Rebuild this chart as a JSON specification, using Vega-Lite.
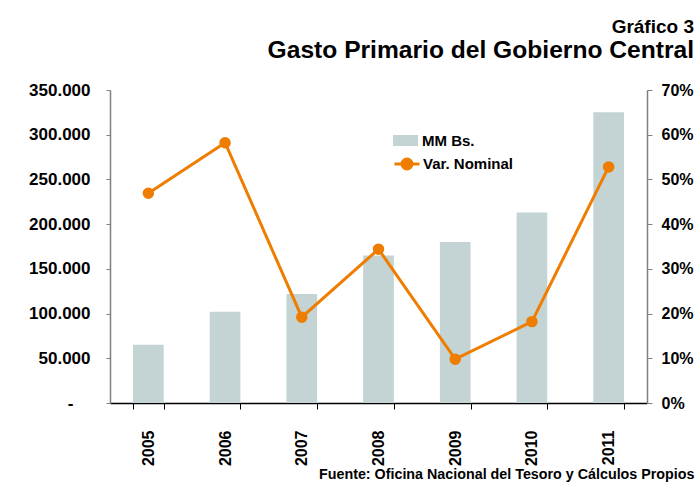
{
  "$schema": "https://vega.github.io/schema/vega-lite/v6.json",
  "width": 537,
  "height": 313,
  "padding": {"left": 28, "top": 18, "right": 2, "bottom": 5},
  "background": "white",
  "config": {"font": "Liberation Sans", "view": {"stroke": null}},
  "title": {
    "text": "Gráfico 3",
    "subtitle": "Gasto Primario del Gobierno Central",
    "anchor": "end",
    "frame": "bounds",
    "font": "Liberation Sans",
    "subtitleFont": "Liberation Sans",
    "fontSize": 19,
    "fontWeight": "bold",
    "color": "black",
    "subtitleFontSize": 24.6,
    "subtitleFontWeight": "bold",
    "subtitleColor": "black",
    "subtitlePadding": 2,
    "offset": 18
  },
  "data": {
    "values": [
      {"year": "2005", "gasto": 65000, "var": 0.469},
      {"year": "2006", "gasto": 102000, "var": 0.582},
      {"year": "2007", "gasto": 122000, "var": 0.192},
      {"year": "2008", "gasto": 165000, "var": 0.344},
      {"year": "2009", "gasto": 180000, "var": 0.098},
      {"year": "2010", "gasto": 213000, "var": 0.182},
      {"year": "2011", "gasto": 325000, "var": 0.528}
    ]
  },
  "encoding": {
    "x": {
      "field": "year",
      "type": "ordinal",
      "scale": {"paddingInner": 0.6, "paddingOuter": 0.3},
      "axis": {
        "title": "Fuente: Oficina Nacional del Tesoro y Cálculos Propios",
        "titleFontSize": 14.3,
        "titleFontWeight": "bold",
        "titleColor": "black",
        "titleAnchor": "end",
        "titleAlign": "right",
        "titleX": 584,
        "titlePadding": 2,
        "labelAngle": -90,
        "labelFontSize": 16,
        "labelFontWeight": "bold",
        "labelColor": "black",
        "domainColor": "black",
        "domainWidth": 1.5,
        "tickColor": "black",
        "tickBand": "extent",
        "tickSize": 6,
        "labelPadding": 21
      }
    }
  },
  "layer": [
    {
      "mark": {"type": "bar"},
      "encoding": {
        "y": {
          "field": "gasto",
          "type": "quantitative",
          "scale": {"domain": [0, 350000]},
          "axis": {
            "values": [0, 50000, 100000, 150000, 200000, 250000, 300000, 350000],
            "labelExpr": "datum.value == 0 ? '-' : replace(format(datum.value, ','), regexp(',', 'g'), '.')",
            "title": null,
            "grid": false,
            "domainColor": "#808080",
            "domainWidth": 1.5,
            "tickColor": "#808080",
            "tickSize": 4,
            "labelPadding": {"condition": {"test": "datum.value == 0", "value": 33}, "value": 16},
            "labelFontSize": 17,
            "labelFontWeight": "bold",
            "labelColor": "black"
          }
        },
        "color": {
          "datum": "MM Bs.",
          "scale": {"range": ["#c4d3d3"]},
          "legend": {
            "orient": "none",
            "legendX": 283,
            "legendY": 38,
            "title": null,
            "symbolType": "M-1,-0.44H1V0.44H-1Z",
            "symbolSize": 625,
            "symbolStrokeWidth": 0,
            "labelFontSize": 15,
            "labelFontWeight": "bold",
            "labelColor": "black",
            "labelOffset": 4
          }
        }
      }
    },
    {
      "mark": {
        "type": "line",
        "color": "#ee7d00",
        "strokeWidth": 3,
        "point": {"filled": true, "size": 90, "color": "#ee7d00"}
      },
      "encoding": {
        "y": {
          "field": "var",
          "type": "quantitative",
          "scale": {"domain": [0, 0.7]},
          "axis": {
            "orient": "right",
            "values": [0, 0.1, 0.2, 0.3, 0.4, 0.5, 0.6, 0.7],
            "format": ".0%",
            "title": null,
            "grid": false,
            "domainColor": "#808080",
            "domainWidth": 1.5,
            "tickColor": "#808080",
            "tickSize": 5,
            "labelPadding": 9,
            "labelFontSize": 16,
            "labelFontWeight": "bold",
            "labelColor": "black"
          }
        },
        "stroke": {
          "datum": "Var. Nominal",
          "scale": {"range": ["#ee7d00"]},
          "legend": {
            "orient": "none",
            "legendX": 283,
            "legendY": 60,
            "title": null,
            "symbolType": "M-1,0H1M-0.4,0A0.4,0.4 0 1,1 0.4,0A0.4,0.4 0 1,1 -0.4,0Z",
            "symbolSize": 625,
            "symbolStrokeWidth": 3,
            "symbolFillColor": "#ee7d00",
            "symbolStrokeColor": "#ee7d00",
            "labelFontSize": 15,
            "labelFontWeight": "bold",
            "labelColor": "black",
            "labelOffset": 2
          }
        }
      }
    }
  ],
  "resolve": {"scale": {"y": "independent"}}
}
